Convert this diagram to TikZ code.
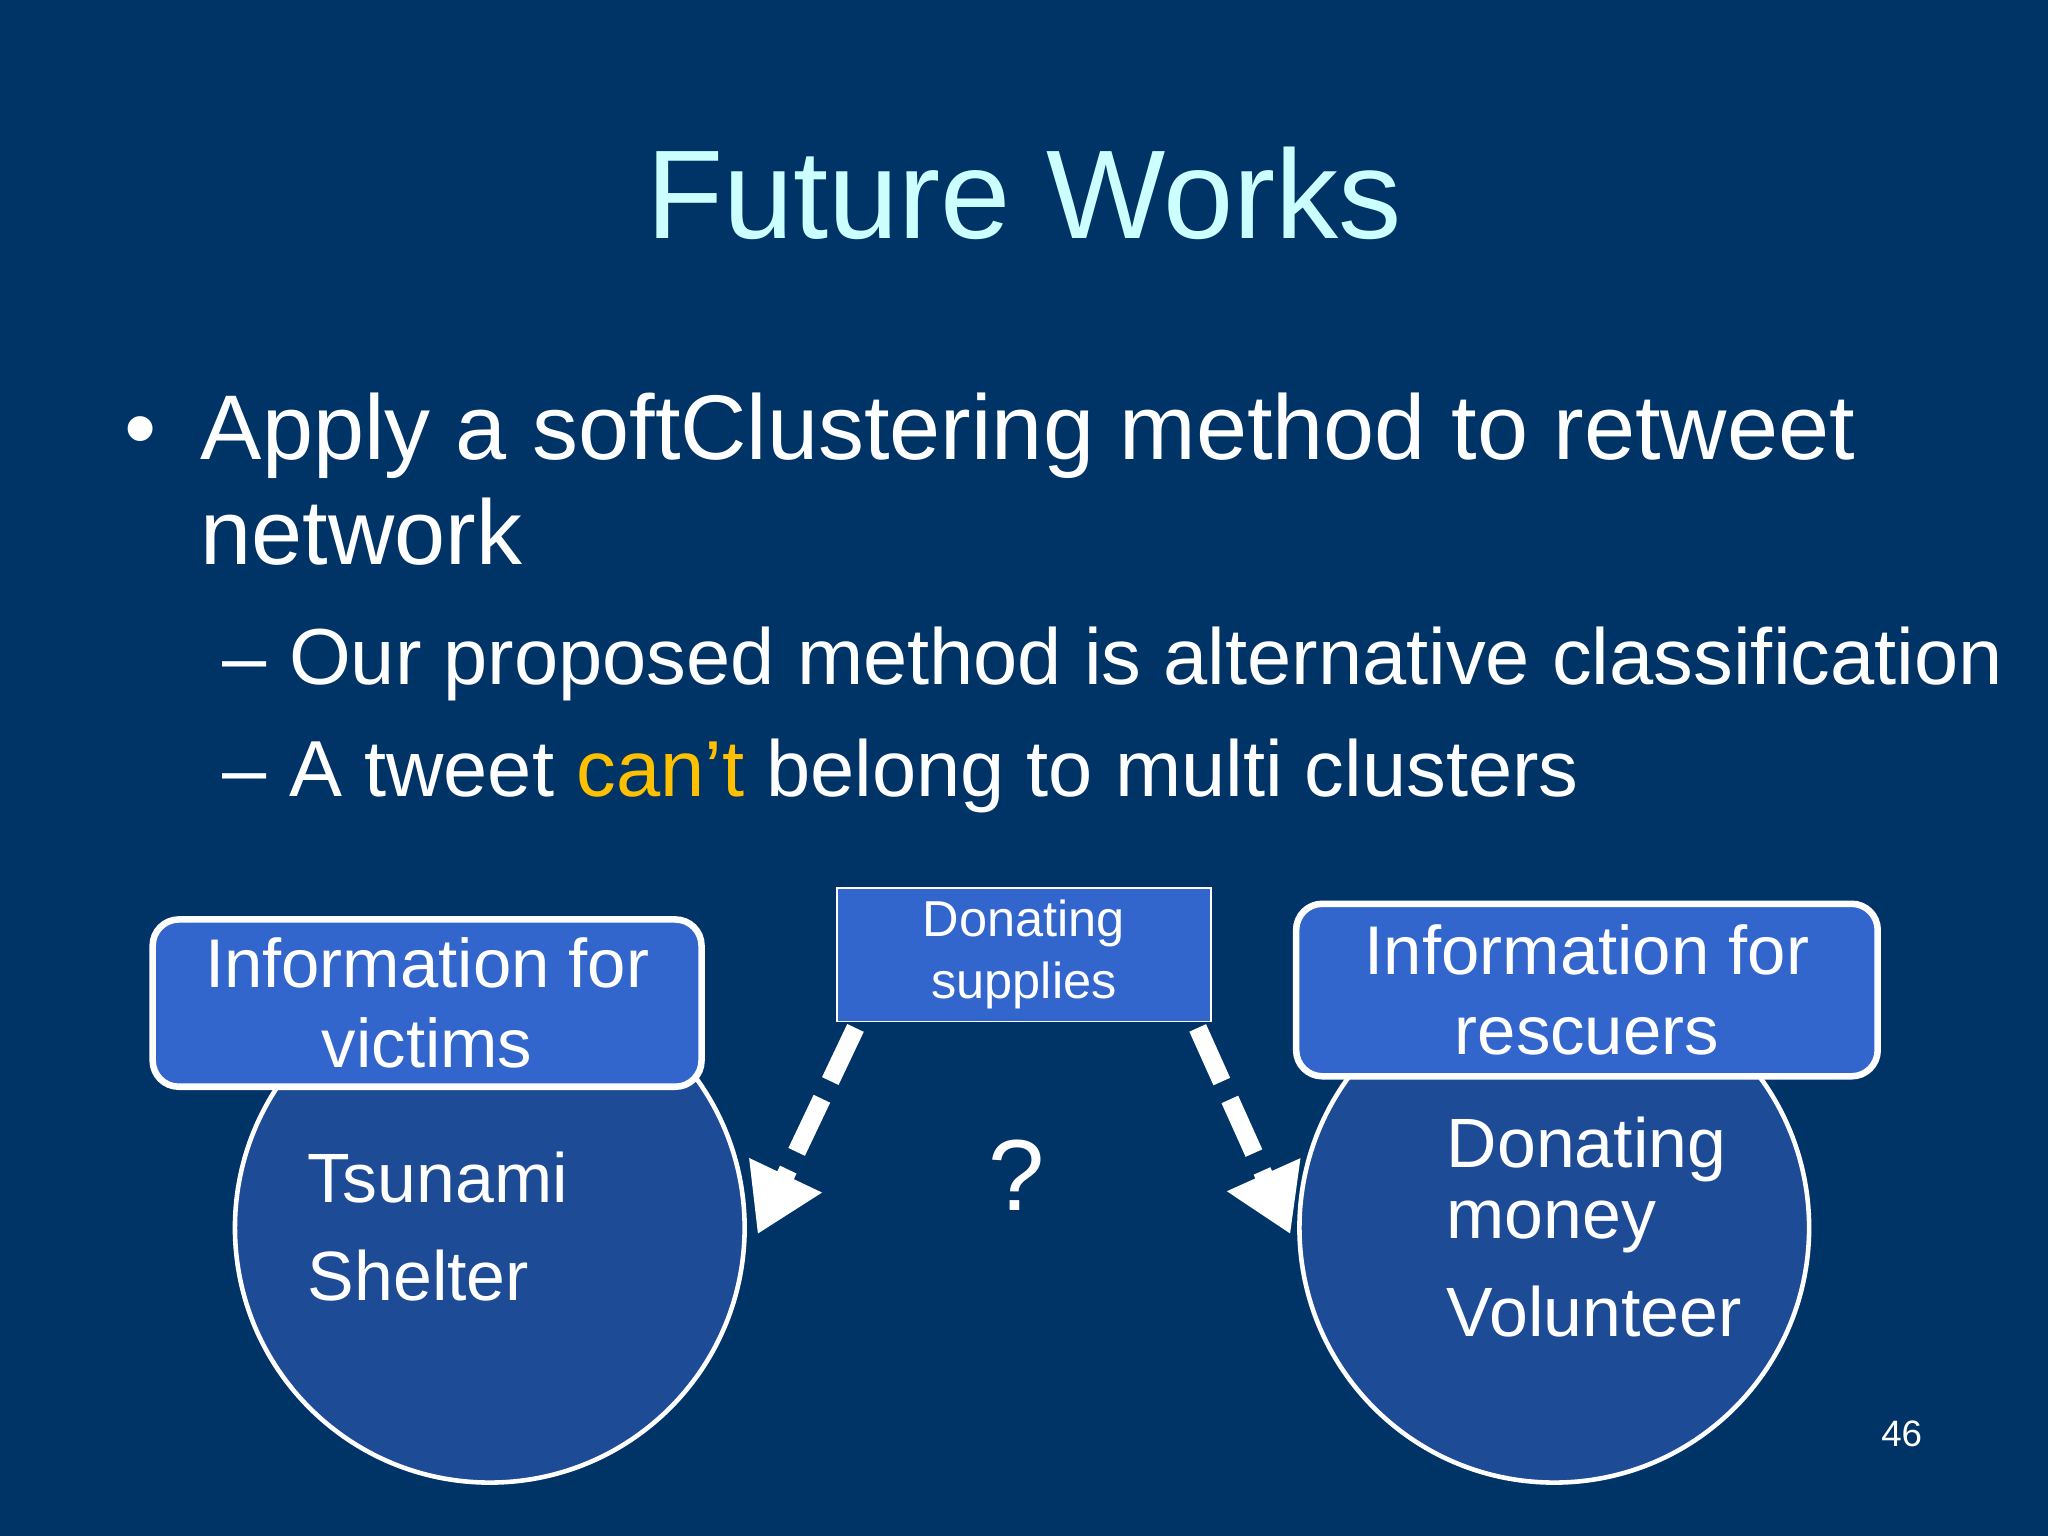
\documentclass[tikz,border=0pt]{standalone}
\usepackage{fontspec}
\setmainfont{Liberation Sans}
\usetikzlibrary{arrows.meta}
\definecolor{bg}{RGB}{0,51,102}
\definecolor{ttl}{RGB}{204,255,255}
\definecolor{boxc}{RGB}{51,102,204}
\definecolor{circc}{RGB}{30,75,150}
\definecolor{hl}{RGB}{255,192,0}
\begin{document}
\begin{tikzpicture}[x=0.01cm,y=-0.01cm]
\tikzset{
  lbl box/.style={draw=white,line width=0.05cm,fill=boxc,rounded corners=0.2cm,text=white,
    font=\fontsize{15}{17.5}\selectfont,align=center,inner sep=0},
  grp/.style={circle,draw=white,line width=0.035cm,fill=circc,minimum size=3.9cm,inner sep=0},
  itm/.style={text=white,font=\fontsize{15.2}{18}\selectfont,anchor=base west,inner sep=0},
  flow/.style={white,line width=0.14cm,dash pattern=on 0.45cm off 0.15cm,
    -{Triangle[width=0.58cm,length=0.5cm]}}
}
\useasboundingbox (0,0) rectangle (1568,1176);
\fill[bg] (0,0) rectangle (1568,1176);
\node[text=ttl,font=\fontsize{27.5}{33}\selectfont] (title) at (784,148) {Future Works};
\node[text=white,font=\fontsize{20}{24}\selectfont,anchor=base west,inner sep=0] (b1) at (95,352) {•};
\node[text=white,font=\fontsize{20}{24}\selectfont,anchor=base west,inner sep=0] (l1) at (153,352) {Apply a softClustering method to retweet};
\node[text=white,font=\fontsize{20}{24}\selectfont,anchor=base west,inner sep=0] (l2) at (153,432) {network};
\node[text=white,font=\fontsize{17.3}{21}\selectfont,anchor=base west,inner sep=0] (s1) at (170,524) {– Our proposed method is alternative classification};
\node[text=white,font=\fontsize{17.3}{21}\selectfont,anchor=base west,inner sep=0] (s2) at (170,610) {– A tweet \textcolor{hl}{can’t} belong to multi clusters};
% circles
\node[grp] (cl) at (375,940) {};
\node[grp] (cr) at (1190,940) {};
\node[itm] (t1) at (235,921) {Tsunami};
\node[itm] (t2) at (235,996) {Shelter};
\node[itm] (t3) at (1107,894) {Donating};
\node[itm] (t4) at (1107,948) {money};
\node[itm] (t5) at (1107,1023) {Volunteer};
% boxes
\node[lbl box,minimum width=4.2cm,minimum height=1.28cm] (bl) at (327,768) {Information for\\victims};
\node[lbl box,minimum width=4.45cm,minimum height=1.32cm] (br) at (1215,758) {Information for\\rescuers};
\node[draw=white,line width=0.012cm,fill=boxc,text=white,font=\fontsize{11}{13.5}\selectfont,
  align=center,minimum width=2.86cm,minimum height=1.02cm,inner sep=0] (bm) at (784,731) {Donating\\supplies};
\coordinate (al) at (580,945);
\coordinate (ar) at (988,945);
\draw[flow] (655,787) -- (al);
\draw[flow] (917,787) -- (ar);
\node[text=white,font=\fontsize{22}{26}\selectfont] (q) at (778,900) {?};
\node[text=white,font=\fontsize{8}{10}\selectfont] (pg) at (1456,1098) {46};
\end{tikzpicture}
\end{document}
